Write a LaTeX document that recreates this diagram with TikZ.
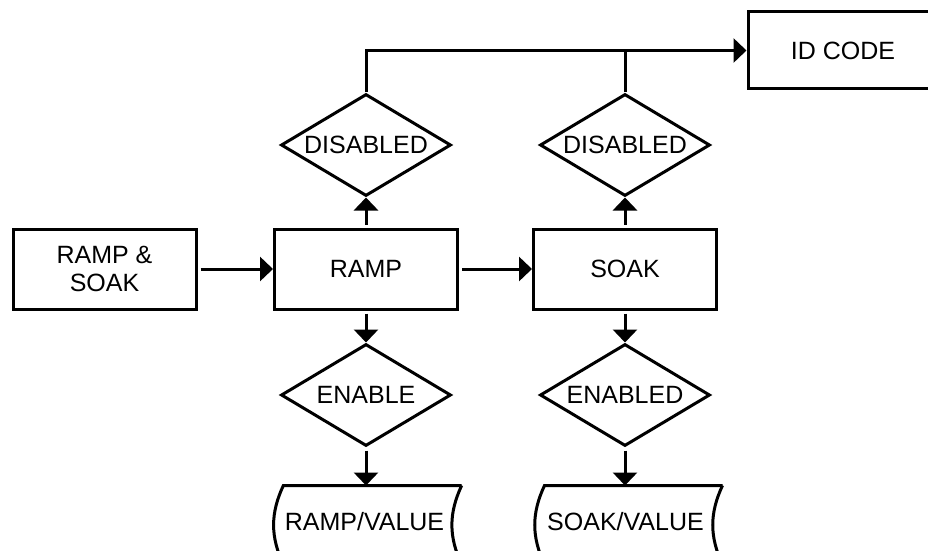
\documentclass[tikz,border=0pt]{standalone}
\usepackage{fontspec}
\setmainfont{Liberation Sans}
\usetikzlibrary{shapes.geometric}
\usetikzlibrary{arrows.meta}

\begin{document}
\begin{tikzpicture}[x=1pt, y=1pt, line width=3pt,
  font=\fontsize{25}{28}\selectfont,
  box/.style={draw, rectangle, minimum width=183pt, minimum height=80pt, inner sep=0pt, align=center},
  choice/.style={draw, diamond, aspect=1.667, minimum width=170pt, minimum height=102pt, inner sep=0pt},
  store/.style={rectangle, minimum width=175pt, minimum height=76pt, inner sep=0pt},
  link/.style={-{Triangle[length=13pt, width=24pt]}, shorten <=3pt},
  bus/.style={-{Triangle[length=13pt, width=24pt]}}]
\useasboundingbox (0,0) rectangle (928,550);
\clip (0,0) rectangle (928,550);
\node(RS) [box] at (104.5,281) {RAMP \&\\SOAK};
\node(R) [box] at (366,281) {RAMP};
\node(S) [box] at (625,281) {SOAK};
\node(RD) [choice] at (366,405) {DISABLED};
\node(SD) [choice] at (625,405) {DISABLED};
\node(RE) [choice] at (366,155) {ENABLE};
\node(SE) [choice] at (625,155) {ENABLED};
\node(RV) [store] at (372.5,25) {\raisebox{8pt}{RAMP/VALUE}\kern16pt};
\node(SV) [store] at (633.5,25) {\raisebox{8pt}{SOAK/VALUE}\kern16pt};
\node(ID) [box, minimum width=190pt, minimum height=77pt] at (843,499.5) {ID CODE};
% stored data outlines
\foreach \s in {RV,SV} {
  \draw (\s.north east) -- (\s.north west) to[bend right=25] (\s.south west);
  \draw (\s.north east) to[bend right=25] (\s.south east);
}
\draw[link] (RS) -- (R);
\draw[link] (R) -- (S);
\draw[link] (R) -- (RD);
\draw[link] (S) -- (SD);
\draw[link] (R) -- (RE);
\draw[link] (S) -- (SE);
\draw[link] (RE) -- (RE |- RV.north);
\draw[link] (SE) -- (SE |- SV.north);
\draw[bus] (RD.north) -- (RD.north |- ID.west) -- (ID.west);
\draw (SD.north) -- (SD.north |- ID.west);
\end{tikzpicture}
\end{document}
